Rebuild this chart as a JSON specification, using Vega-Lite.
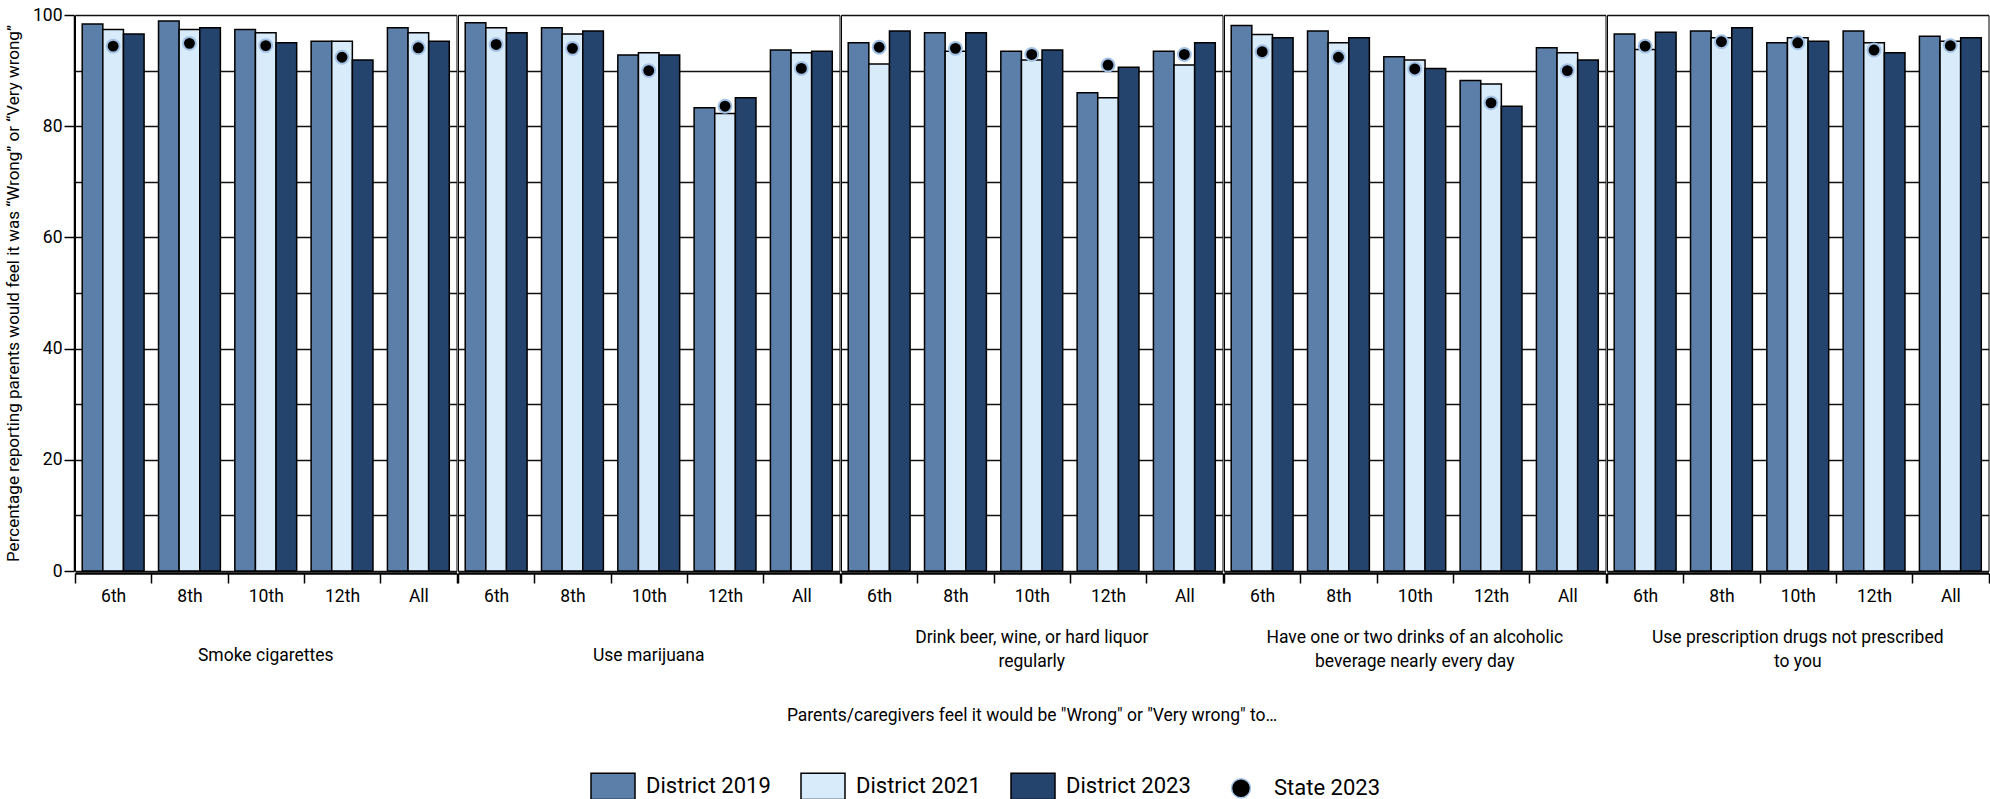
{
  "$schema": "https://vega.github.io/schema/vega-lite/v6.json",
  "background": "white",
  "padding": {"left": 4, "top": 6, "right": 0, "bottom": 0},
  "data": {"values": [
    {"category": "Smoke cigarettes", "grade": "6th", "series": "District 2019", "value": 98.4},
    {"category": "Smoke cigarettes", "grade": "6th", "series": "District 2021", "value": 97.4},
    {"category": "Smoke cigarettes", "grade": "6th", "series": "District 2023", "value": 96.6},
    {"category": "Smoke cigarettes", "grade": "6th", "series": "State 2023", "value": 94.4},
    {"category": "Smoke cigarettes", "grade": "8th", "series": "District 2019", "value": 98.9},
    {"category": "Smoke cigarettes", "grade": "8th", "series": "District 2021", "value": 97.4},
    {"category": "Smoke cigarettes", "grade": "8th", "series": "District 2023", "value": 97.7},
    {"category": "Smoke cigarettes", "grade": "8th", "series": "State 2023", "value": 94.9},
    {"category": "Smoke cigarettes", "grade": "10th", "series": "District 2019", "value": 97.4},
    {"category": "Smoke cigarettes", "grade": "10th", "series": "District 2021", "value": 96.8},
    {"category": "Smoke cigarettes", "grade": "10th", "series": "District 2023", "value": 95.0},
    {"category": "Smoke cigarettes", "grade": "10th", "series": "State 2023", "value": 94.5},
    {"category": "Smoke cigarettes", "grade": "12th", "series": "District 2019", "value": 95.3},
    {"category": "Smoke cigarettes", "grade": "12th", "series": "District 2021", "value": 95.3},
    {"category": "Smoke cigarettes", "grade": "12th", "series": "District 2023", "value": 91.9},
    {"category": "Smoke cigarettes", "grade": "12th", "series": "State 2023", "value": 92.4},
    {"category": "Smoke cigarettes", "grade": "All", "series": "District 2019", "value": 97.7},
    {"category": "Smoke cigarettes", "grade": "All", "series": "District 2021", "value": 96.8},
    {"category": "Smoke cigarettes", "grade": "All", "series": "District 2023", "value": 95.3},
    {"category": "Smoke cigarettes", "grade": "All", "series": "State 2023", "value": 94.1},
    {"category": "Use marijuana", "grade": "6th", "series": "District 2019", "value": 98.6},
    {"category": "Use marijuana", "grade": "6th", "series": "District 2021", "value": 97.7},
    {"category": "Use marijuana", "grade": "6th", "series": "District 2023", "value": 96.8},
    {"category": "Use marijuana", "grade": "6th", "series": "State 2023", "value": 94.7},
    {"category": "Use marijuana", "grade": "8th", "series": "District 2019", "value": 97.7},
    {"category": "Use marijuana", "grade": "8th", "series": "District 2021", "value": 96.6},
    {"category": "Use marijuana", "grade": "8th", "series": "District 2023", "value": 97.1},
    {"category": "Use marijuana", "grade": "8th", "series": "State 2023", "value": 94.0},
    {"category": "Use marijuana", "grade": "10th", "series": "District 2019", "value": 92.8},
    {"category": "Use marijuana", "grade": "10th", "series": "District 2021", "value": 93.2},
    {"category": "Use marijuana", "grade": "10th", "series": "District 2023", "value": 92.8},
    {"category": "Use marijuana", "grade": "10th", "series": "State 2023", "value": 90.0},
    {"category": "Use marijuana", "grade": "12th", "series": "District 2019", "value": 83.3},
    {"category": "Use marijuana", "grade": "12th", "series": "District 2021", "value": 82.3},
    {"category": "Use marijuana", "grade": "12th", "series": "District 2023", "value": 85.1},
    {"category": "Use marijuana", "grade": "12th", "series": "State 2023", "value": 83.6},
    {"category": "Use marijuana", "grade": "All", "series": "District 2019", "value": 93.7},
    {"category": "Use marijuana", "grade": "All", "series": "District 2021", "value": 93.2},
    {"category": "Use marijuana", "grade": "All", "series": "District 2023", "value": 93.5},
    {"category": "Use marijuana", "grade": "All", "series": "State 2023", "value": 90.4},
    {"category": "Drink beer, wine, or hard liquor regularly", "grade": "6th", "series": "District 2019", "value": 95.0},
    {"category": "Drink beer, wine, or hard liquor regularly", "grade": "6th", "series": "District 2021", "value": 91.2},
    {"category": "Drink beer, wine, or hard liquor regularly", "grade": "6th", "series": "District 2023", "value": 97.1},
    {"category": "Drink beer, wine, or hard liquor regularly", "grade": "6th", "series": "State 2023", "value": 94.2},
    {"category": "Drink beer, wine, or hard liquor regularly", "grade": "8th", "series": "District 2019", "value": 96.8},
    {"category": "Drink beer, wine, or hard liquor regularly", "grade": "8th", "series": "District 2021", "value": 93.5},
    {"category": "Drink beer, wine, or hard liquor regularly", "grade": "8th", "series": "District 2023", "value": 96.8},
    {"category": "Drink beer, wine, or hard liquor regularly", "grade": "8th", "series": "State 2023", "value": 94.0},
    {"category": "Drink beer, wine, or hard liquor regularly", "grade": "10th", "series": "District 2019", "value": 93.5},
    {"category": "Drink beer, wine, or hard liquor regularly", "grade": "10th", "series": "District 2021", "value": 91.9},
    {"category": "Drink beer, wine, or hard liquor regularly", "grade": "10th", "series": "District 2023", "value": 93.7},
    {"category": "Drink beer, wine, or hard liquor regularly", "grade": "10th", "series": "State 2023", "value": 92.9},
    {"category": "Drink beer, wine, or hard liquor regularly", "grade": "12th", "series": "District 2019", "value": 86.0},
    {"category": "Drink beer, wine, or hard liquor regularly", "grade": "12th", "series": "District 2021", "value": 85.1},
    {"category": "Drink beer, wine, or hard liquor regularly", "grade": "12th", "series": "District 2023", "value": 90.6},
    {"category": "Drink beer, wine, or hard liquor regularly", "grade": "12th", "series": "State 2023", "value": 91.0},
    {"category": "Drink beer, wine, or hard liquor regularly", "grade": "All", "series": "District 2019", "value": 93.5},
    {"category": "Drink beer, wine, or hard liquor regularly", "grade": "All", "series": "District 2021", "value": 91.0},
    {"category": "Drink beer, wine, or hard liquor regularly", "grade": "All", "series": "District 2023", "value": 95.0},
    {"category": "Drink beer, wine, or hard liquor regularly", "grade": "All", "series": "State 2023", "value": 92.9},
    {"category": "Have one or two drinks of an alcoholic beverage nearly every day", "grade": "6th", "series": "District 2019", "value": 98.1},
    {"category": "Have one or two drinks of an alcoholic beverage nearly every day", "grade": "6th", "series": "District 2021", "value": 96.5},
    {"category": "Have one or two drinks of an alcoholic beverage nearly every day", "grade": "6th", "series": "District 2023", "value": 95.9},
    {"category": "Have one or two drinks of an alcoholic beverage nearly every day", "grade": "6th", "series": "State 2023", "value": 93.4},
    {"category": "Have one or two drinks of an alcoholic beverage nearly every day", "grade": "8th", "series": "District 2019", "value": 97.1},
    {"category": "Have one or two drinks of an alcoholic beverage nearly every day", "grade": "8th", "series": "District 2021", "value": 95.0},
    {"category": "Have one or two drinks of an alcoholic beverage nearly every day", "grade": "8th", "series": "District 2023", "value": 95.9},
    {"category": "Have one or two drinks of an alcoholic beverage nearly every day", "grade": "8th", "series": "State 2023", "value": 92.4},
    {"category": "Have one or two drinks of an alcoholic beverage nearly every day", "grade": "10th", "series": "District 2019", "value": 92.5},
    {"category": "Have one or two drinks of an alcoholic beverage nearly every day", "grade": "10th", "series": "District 2021", "value": 91.9},
    {"category": "Have one or two drinks of an alcoholic beverage nearly every day", "grade": "10th", "series": "District 2023", "value": 90.4},
    {"category": "Have one or two drinks of an alcoholic beverage nearly every day", "grade": "10th", "series": "State 2023", "value": 90.3},
    {"category": "Have one or two drinks of an alcoholic beverage nearly every day", "grade": "12th", "series": "District 2019", "value": 88.2},
    {"category": "Have one or two drinks of an alcoholic beverage nearly every day", "grade": "12th", "series": "District 2021", "value": 87.6},
    {"category": "Have one or two drinks of an alcoholic beverage nearly every day", "grade": "12th", "series": "District 2023", "value": 83.6},
    {"category": "Have one or two drinks of an alcoholic beverage nearly every day", "grade": "12th", "series": "State 2023", "value": 84.2},
    {"category": "Have one or two drinks of an alcoholic beverage nearly every day", "grade": "All", "series": "District 2019", "value": 94.1},
    {"category": "Have one or two drinks of an alcoholic beverage nearly every day", "grade": "All", "series": "District 2021", "value": 93.2},
    {"category": "Have one or two drinks of an alcoholic beverage nearly every day", "grade": "All", "series": "District 2023", "value": 91.9},
    {"category": "Have one or two drinks of an alcoholic beverage nearly every day", "grade": "All", "series": "State 2023", "value": 90.0},
    {"category": "Use prescription drugs not prescribed to you", "grade": "6th", "series": "District 2019", "value": 96.6},
    {"category": "Use prescription drugs not prescribed to you", "grade": "6th", "series": "District 2021", "value": 93.8},
    {"category": "Use prescription drugs not prescribed to you", "grade": "6th", "series": "District 2023", "value": 96.9},
    {"category": "Use prescription drugs not prescribed to you", "grade": "6th", "series": "State 2023", "value": 94.4},
    {"category": "Use prescription drugs not prescribed to you", "grade": "8th", "series": "District 2019", "value": 97.1},
    {"category": "Use prescription drugs not prescribed to you", "grade": "8th", "series": "District 2021", "value": 95.9},
    {"category": "Use prescription drugs not prescribed to you", "grade": "8th", "series": "District 2023", "value": 97.7},
    {"category": "Use prescription drugs not prescribed to you", "grade": "8th", "series": "State 2023", "value": 95.2},
    {"category": "Use prescription drugs not prescribed to you", "grade": "10th", "series": "District 2019", "value": 95.0},
    {"category": "Use prescription drugs not prescribed to you", "grade": "10th", "series": "District 2021", "value": 95.9},
    {"category": "Use prescription drugs not prescribed to you", "grade": "10th", "series": "District 2023", "value": 95.3},
    {"category": "Use prescription drugs not prescribed to you", "grade": "10th", "series": "State 2023", "value": 95.0},
    {"category": "Use prescription drugs not prescribed to you", "grade": "12th", "series": "District 2019", "value": 97.1},
    {"category": "Use prescription drugs not prescribed to you", "grade": "12th", "series": "District 2021", "value": 95.0},
    {"category": "Use prescription drugs not prescribed to you", "grade": "12th", "series": "District 2023", "value": 93.2},
    {"category": "Use prescription drugs not prescribed to you", "grade": "12th", "series": "State 2023", "value": 93.7},
    {"category": "Use prescription drugs not prescribed to you", "grade": "All", "series": "District 2019", "value": 96.2},
    {"category": "Use prescription drugs not prescribed to you", "grade": "All", "series": "District 2021", "value": 95.3},
    {"category": "Use prescription drugs not prescribed to you", "grade": "All", "series": "District 2023", "value": 95.9},
    {"category": "Use prescription drugs not prescribed to you", "grade": "All", "series": "State 2023", "value": 94.5}
  ]},
  "facet": {
    "column": {
      "field": "category",
      "type": "nominal",
      "sort": ["Smoke cigarettes", "Use marijuana", "Drink beer, wine, or hard liquor regularly", "Have one or two drinks of an alcoholic beverage nearly every day", "Use prescription drugs not prescribed to you"],
      "title": "Parents/caregivers feel it would be \"Wrong\" or \"Very wrong\" to…",
      "header": {
        "labelOrient": "bottom",
        "titleOrient": "bottom",
        "labelExpr": "datum.value == 'Drink beer, wine, or hard liquor regularly' ? ['Drink beer, wine, or hard liquor', 'regularly'] : datum.value == 'Have one or two drinks of an alcoholic beverage nearly every day' ? ['Have one or two drinks of an alcoholic', 'beverage nearly every day'] : datum.value == 'Use prescription drugs not prescribed to you' ? ['Use prescription drugs not prescribed', 'to you'] : datum.value",
        "labelFontSize": 17.5,
        "labelBaseline": {"expr": "length(parent['category']) > 20 ? 'bottom' : 'top'"},
        "labelLineHeight": 24,
        "labelPadding": 42,
        "labelColor": "black",
        "titleFontSize": 17.5,
        "titleFontWeight": "normal",
        "titleColor": "black",
        "titlePadding": 27
      }
    }
  },
  "spacing": 0,
  "spec": {
    "width": 381.5,
    "height": 556,
    "layer": [
      {
        "transform": [{"filter": "datum.series != 'State 2023'"}],
        "mark": {"type": "bar", "stroke": "black", "strokeWidth": 1.5},
        "encoding": {
          "x": {"field": "grade", "type": "nominal", "sort": ["6th", "8th", "10th", "12th", "All"],
                "scale": {"paddingInner": 0, "paddingOuter": 0},
                "axis": {"title": null, "tickBand": "extent", "tickSize": 10, "tickWidth": 1.5, "tickColor": "black", "labelAngle": 0, "labelFontSize": 17.5, "labelPadding": 4, "labelColor": "black", "domainColor": "black", "domainWidth": 2.5}},
          "xOffset": {"field": "series", "type": "nominal", "sort": ["District 2019", "District 2021", "District 2023"],
                      "scale": {"paddingInner": 0, "paddingOuter": 0.35}},
          "y": {"field": "value", "type": "quantitative", "scale": {"domain": [0, 100], "nice": false},
                "axis": {"orient": "left", "values": [0, 10, 20, 30, 40, 50, 60, 70, 80, 90, 100], "grid": true, "gridColor": "#111111", "gridWidth": 1.5, "labels": false, "ticks": false, "domain": false, "title": null}},
          "color": {"field": "series", "type": "nominal",
                    "scale": {"domain": ["District 2019", "District 2021", "District 2023", "State 2023"], "range": ["#5b7fa8", "#d8ebfb", "#24436d", "#000000"]},
                    "legend": {"title": null, "encode": {"symbols": {"update": {"stroke": {"signal": "datum.value == 'State 2023' ? '#a3c2e6' : 'black'"}, "strokeWidth": {"value": 1.5}}}}}}
        }
      },
      {
        "transform": [{"filter": "datum.series == 'State 2023'"}],
        "mark": {"type": "point", "filled": true, "opacity": 1, "size": 900, "stroke": "#a3c2e6", "strokeWidth": 2},
        "encoding": {
          "x": {"field": "grade", "type": "nominal", "sort": ["6th", "8th", "10th", "12th", "All"]},
          "y": {"field": "value", "type": "quantitative",
                "axis": {"orient": "left", "values": [0, 20, 40, 60, 80, 100], "grid": false, "tickSize": 10, "tickWidth": 1.5, "tickColor": "black", "labelFontSize": 17.5, "labelPadding": 2, "labelColor": "black", "domainColor": "black", "domainWidth": 1.5,
                         "title": "Percentage reporting parents would feel it was “Wrong” or “Very wrong”", "titleFontSize": 17, "titleFontWeight": "normal", "titleColor": "black", "titlePadding": 10}},
          "color": {"field": "series", "type": "nominal",
                    "scale": {"domain": ["District 2019", "District 2021", "District 2023", "State 2023"], "range": ["#5b7fa8", "#d8ebfb", "#24436d", "#000000"]},
                    "legend": {"title": null, "encode": {"symbols": {"update": {"stroke": {"signal": "datum.value == 'State 2023' ? '#a3c2e6' : 'black'"}, "strokeWidth": {"value": 1.5}}}}}},
          "shape": {"field": "series", "type": "nominal",
                    "scale": {"domain": ["District 2019", "District 2021", "District 2023", "State 2023"],
                              "range": ["M-1,-0.6L1,-0.6L1,0.6L-1,0.6Z", "M-1,-0.6L1,-0.6L1,0.6L-1,0.6Z", "M-1,-0.6L1,-0.6L1,0.6L-1,0.6Z", "M-0.43,0A0.43,0.43,0,1,0,0.43,0A0.43,0.43,0,1,0,-0.43,0Z"]},
                    "legend": {"title": null, "encode": {"symbols": {"update": {"stroke": {"signal": "datum.value == 'State 2023' ? '#a3c2e6' : 'black'"}, "strokeWidth": {"value": 1.5}}}}}}
        }
      }
    ],
    "resolve": {"axis": {"y": "independent"}}
  },
  "config": {
    "font": "Roboto",
    "view": {"stroke": "black", "strokeWidth": 1},
    "legend": {
      "orient": "none", "legendX": 515, "legendY": 748, "direction": "horizontal",
      "symbolSize": 1936, "symbolStrokeColor": "black", "symbolStrokeWidth": 1.5,
      "labelFont": "Roboto", "labelFontSize": 22, "labelColor": "black", "labelOffset": 10, "columnPadding": 27, "symbolOpacity": 1
    }
  }
}
